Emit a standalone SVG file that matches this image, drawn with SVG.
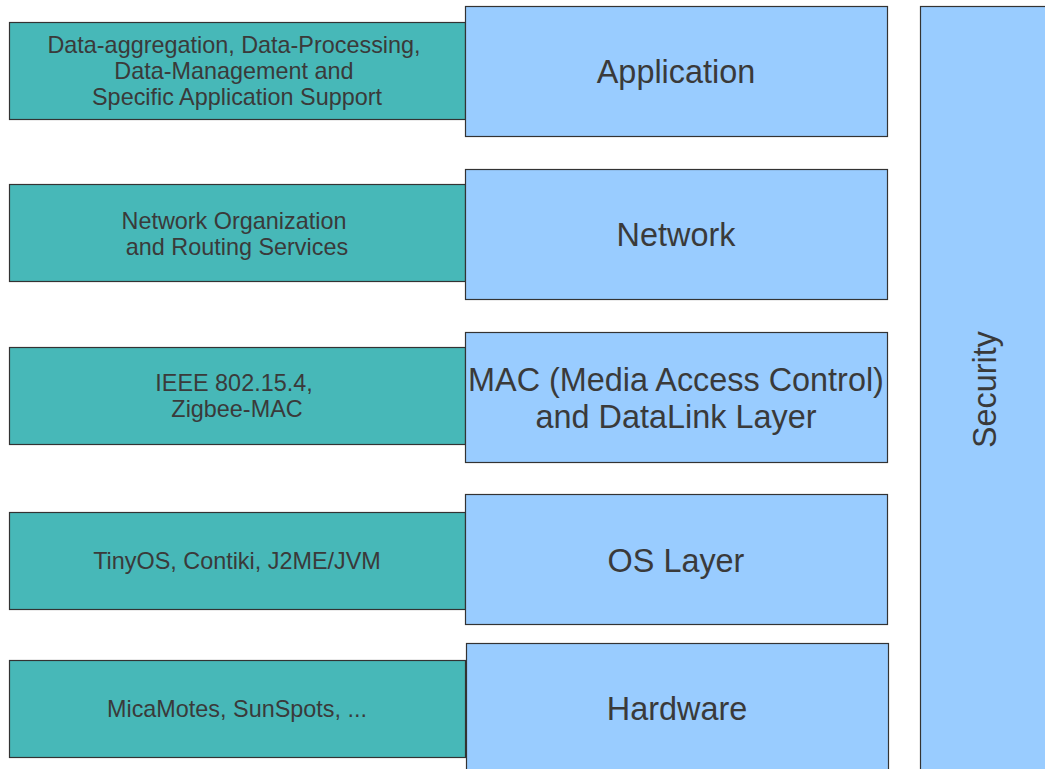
<svg xmlns="http://www.w3.org/2000/svg" width="1045" height="769" viewBox="0 0 1045 769">
<style>
.teal{fill:#47b8b8;stroke:#333;stroke-width:1.2}
.blue{fill:#99ccff;stroke:#333;stroke-width:1.2}
.st{font-family:"Liberation Sans",Arial,sans-serif;font-size:23.4px;fill:#3a3a3a;text-anchor:middle}
.bt{font-family:"Liberation Sans",Arial,sans-serif;font-size:32.4px;fill:#3a3a3a;text-anchor:middle}
</style>
<rect width="1045" height="769" fill="#fff"/>
<g id="desc-app"><rect class="teal" x="9.5" y="22.5" width="456" height="97"/>
<text class="st" x="234" y="53">Data-aggregation, Data-Processing,</text>
<text class="st" x="234" y="79">Data-Management and</text>
<text class="st" x="237" y="105">Specific Application Support</text></g>
<g id="desc-net"><rect class="teal" x="9.5" y="184.5" width="456" height="97"/>
<text class="st" x="234" y="229">Network Organization</text>
<text class="st" x="237" y="255">and Routing Services</text></g>
<g id="desc-mac"><rect class="teal" x="9.5" y="347.5" width="456" height="97"/>
<text class="st" x="234" y="391">IEEE 802.15.4,</text>
<text class="st" x="237" y="417">Zigbee-MAC</text></g>
<g id="desc-os"><rect class="teal" x="9.5" y="512.5" width="456" height="97"/>
<text class="st" x="237" y="569">TinyOS, Contiki, J2ME/JVM</text></g>
<g id="desc-hw"><rect class="teal" x="9.5" y="660.5" width="456" height="97"/>
<text class="st" x="237" y="717">MicaMotes, SunSpots, ...</text></g>
<g id="application"><rect class="blue" x="465.5" y="6.5" width="422" height="130"/>
<text class="bt" x="676" y="83">Application</text></g>
<g id="network"><rect class="blue" x="465.5" y="169.5" width="422" height="130"/>
<text class="bt" x="676" y="246">Network</text></g>
<g id="mac"><rect class="blue" x="465.5" y="332.5" width="422" height="130"/>
<text class="bt" x="676" y="391">MAC (Media Access Control)</text>
<text class="bt" x="676" y="428">and DataLink Layer</text></g>
<g id="os"><rect class="blue" x="465.5" y="494.5" width="422" height="130"/>
<text class="bt" x="676" y="572">OS Layer</text></g>
<g id="hardware"><rect class="blue" x="466.5" y="643.5" width="422" height="140"/>
<text class="bt" x="677" y="720">Hardware</text></g>
<g id="security"><rect class="blue" x="920.5" y="6.5" width="140" height="780"/>
<text class="bt" x="0" y="0" transform="translate(996 389.5) rotate(-90)">Security</text></g>
<g id="connectors"></g>
</svg>
